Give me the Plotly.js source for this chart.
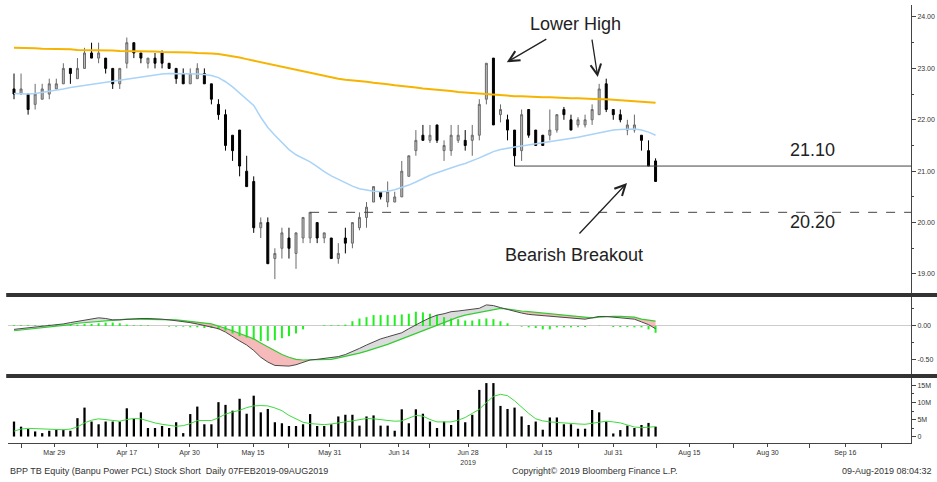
<!DOCTYPE html>
<html><head><meta charset="utf-8">
<script src="https://cdn.plot.ly/plotly-3.0.1.min.js"></script>
<style>html,body{margin:0;padding:0;background:#fff}#chart{width:937px;height:482px}</style>
</head><body><div id="chart"></div>
<script>
// ---- Daily candles (trading-day index 0..91), BPP TB, THB ----
const OPEN=[22.6,22.5,22.5,22.3,22.4,22.5,22.6,22.7,23.0,22.8, 23.0,23.3,23.2,23.2,23.0,22.7,23.1,23.5,23.3,23.1, 23.2,23.3,23.1,23.0,22.9,22.7,22.8,22.9,22.7,22.3, 22.1,21.7,21.8,21.0,20.8,19.9,20.0,19.3,19.5,19.7, 19.4,19.7,19.7,20.0,19.7,19.7,19.3,19.7,19.6,19.9, 20.1,20.4,20.6,20.4,20.4,20.5,20.9,21.4,21.7,21.6, 21.9,21.4,21.4,21.6,21.6,21.6,21.7,22.4,23.2,22.1, 22.0,21.8,21.4,22.2,21.8,21.7,21.7,21.8,22.2,22.0, 21.9,21.9,22.0,22.1,22.7,22.2,22.1,21.8,21.8,21.7, 21.4,21.2];
const HIGH=[22.9,22.9,22.5,22.7,22.7,22.8,22.8,23.1,23.0,23.2, 23.4,23.5,23.5,23.2,23.0,23.0,23.6,23.5,23.3,23.2, 23.3,23.35,23.1,23.0,23.0,23.0,23.1,23.0,22.7,22.4, 22.2,21.7,21.8,21.3,20.9,20.1,20.1,19.5,19.9,19.9, 19.8,20.1,20.2,20.0,19.8,19.7,19.6,19.9,20.0,20.2, 20.4,20.7,20.6,20.8,20.6,21.2,21.3,21.8,21.9,21.9, 21.9,21.6,21.9,21.9,21.8,21.9,22.4,23.1,23.2,22.3, 22.1,21.8,22.2,22.2,21.8,21.7,22.2,22.1,22.25,22.1, 22.05,22.1,22.3,22.7,22.8,22.2,22.2,22.0,22.1,21.7, 21.6,21.25];
const LOW=[22.4,22.5,22.1,22.2,22.4,22.4,22.6,22.7,22.7,22.8, 23.0,23.2,23.1,22.9,22.6,22.6,23.0,23.2,23.1,23.0, 23.0,23.0,23.0,22.7,22.7,22.7,22.8,22.7,22.3,22.0, 21.4,21.2,20.9,20.7,19.8,19.7,19.2,18.9,19.3,19.3, 19.1,19.6,19.6,19.6,19.6,19.3,19.2,19.4,19.5,19.85, 19.9,20.4,20.45,20.3,20.4,20.5,20.9,21.3,21.6,21.55, 21.55,21.2,21.3,21.55,21.4,21.3,21.6,22.3,21.9,21.95, 21.6,21.1,21.2,21.65,21.5,21.5,21.6,21.75,22.0,21.8, 21.85,21.85,21.9,22.1,22.15,22.0,21.95,21.7,21.75,21.4, 21.1,20.8];
const CLOSE=[22.5,22.6,22.2,22.5,22.6,22.7,22.7,23.0,22.9,23.0, 23.3,23.2,23.3,23.0,22.7,23.0,23.5,23.3,23.2,23.2, 23.1,23.1,23.0,22.8,22.7,22.9,23.0,22.7,22.4,22.1, 21.5,21.4,21.1,20.7,19.9,20.0,19.2,19.4,19.8,19.5, 19.8,20.1,20.2,19.7,19.8,19.3,19.4,19.6,20.0,20.1, 20.3,20.7,20.5,20.6,20.5,21.0,21.3,21.6,21.6,21.7, 21.6,21.5,21.7,21.7,21.5,21.7,22.3,23.1,21.9,22.2, 21.8,21.3,22.1,21.7,21.5,21.5,21.8,22.1,22.1,21.8, 22.0,22.0,22.2,22.6,22.2,22.1,22.0,21.9,21.9,21.6, 21.1,20.8];
// moving averages on price
const MA_LONG=[23.40,23.40,23.39,23.39,23.38,23.38,23.37,23.37,23.37,23.36, 23.36,23.36,23.35,23.35,23.35,23.34,23.34,23.34,23.33,23.33, 23.33,23.32,23.32,23.32,23.31,23.31,23.30,23.30,23.29,23.28, 23.26,23.24,23.21,23.18,23.15,23.12,23.09,23.06,23.03,23.00, 22.97,22.94,22.91,22.88,22.85,22.82,22.80,22.78,22.77,22.76, 22.74,22.72,22.71,22.69,22.67,22.66,22.64,22.63,22.61,22.60, 22.58,22.57,22.56,22.54,22.53,22.52,22.50,22.49,22.48,22.47, 22.47,22.46,22.46,22.45,22.45,22.44,22.44,22.43,22.43,22.42, 22.42,22.41,22.41,22.40,22.40,22.39,22.38,22.37,22.36,22.35, 22.34,22.33];
const MA_SHORT=[22.51,22.50,22.50,22.51,22.53,22.55,22.58,22.60,22.63,22.65, 22.67,22.69,22.71,22.73,22.75,22.77,22.80,22.82,22.84,22.86, 22.88,22.89,22.90,22.90,22.90,22.90,22.89,22.88,22.86,22.82, 22.74,22.64,22.52,22.40,22.28,22.05,21.85,21.70,21.55,21.42, 21.32,21.25,21.18,21.09,20.99,20.91,20.84,20.77,20.71,20.66, 20.63,20.61,20.60,20.61,20.64,20.68,20.73,20.79,20.86,20.92, 20.97,21.02,21.07,21.11,21.15,21.20,21.26,21.32,21.38,21.42, 21.45,21.47,21.49,21.51,21.53,21.55,21.57,21.59,21.61,21.63, 21.66,21.69,21.72,21.75,21.78,21.80,21.81,21.82,21.82,21.80, 21.76,21.70];
// MACD panel
const MACD=[-0.05,-0.04,-0.03,-0.02,-0.01,0.00,0.02,0.03,0.05,0.07, 0.09,0.11,0.12,0.11,0.09,0.09,0.10,0.11,0.11,0.11, 0.11,0.10,0.09,0.08,0.06,0.05,0.03,0.01,-0.02,-0.04, -0.09,-0.16,-0.22,-0.28,-0.36,-0.46,-0.53,-0.58,-0.59,-0.59, -0.57,-0.54,-0.50,-0.49,-0.48,-0.47,-0.45,-0.42,-0.38,-0.33, -0.28,-0.23,-0.19,-0.16,-0.13,-0.10,-0.04,0.02,0.07,0.12, 0.16,0.18,0.21,0.22,0.23,0.24,0.26,0.31,0.30,0.27, 0.24,0.21,0.19,0.17,0.16,0.15,0.14,0.13,0.12,0.11, 0.10,0.10,0.12,0.14,0.14,0.13,0.13,0.12,0.10,0.06, 0.02,-0.04];
const SIGNAL=[-0.07,-0.06,-0.05,-0.04,-0.03,-0.02,-0.01,0.01,0.02,0.04, 0.05,0.06,0.07,0.08,0.09,0.09,0.10,0.10,0.10,0.10, 0.10,0.10,0.10,0.09,0.08,0.07,0.06,0.05,0.03,0.00, -0.03,-0.07,-0.11,-0.15,-0.19,-0.25,-0.31,-0.37,-0.42,-0.46, -0.49,-0.50,-0.50,-0.50,-0.50,-0.49,-0.47,-0.45,-0.43,-0.40, -0.37,-0.34,-0.30,-0.27,-0.23,-0.19,-0.15,-0.10,-0.06,-0.02, 0.02,0.06,0.10,0.13,0.16,0.18,0.20,0.22,0.24,0.26, 0.25,0.23,0.22,0.21,0.20,0.19,0.17,0.16,0.15,0.14, 0.13,0.12,0.12,0.13,0.14,0.14,0.14,0.14,0.13,0.10, 0.08,0.07];
const HIST=[0.01,0.01,0.01,0.01,0.01,0.02,0.02,0.02,0.02,0.02,0.03, 0.03,0.04,0.05,0.05,0.04, 0.02,0.01,0.01,0.01,0.00,0.00,-0.01,-0.01,-0.01, -0.02,-0.02,-0.03,-0.03, -0.05,-0.07,-0.11,-0.15,-0.17,-0.20,-0.22,-0.22,-0.21,-0.18,-0.15,-0.11,-0.05, 0.00,0.00,0.01,0.01,0.01,0.02, 0.07,0.11,0.13,0.16,0.16,0.16,0.16,0.17,0.18,0.21,0.20,0.18,0.16,0.13,0.11,0.10,0.08,0.08,0.10,0.11,0.10,0.07,0.04, 0.00,-0.01,-0.02,-0.03,-0.05,-0.05,-0.02,-0.02,-0.02,-0.015,-0.015,0.00,0.005,0.00,-0.015,-0.015,-0.015,-0.02,-0.02,-0.05,-0.10];
// Volume (millions of shares)
const VOLUME=[4.4,2.9,2.2,1.5,1.0,1.7,2.0,2.0,1.7,5.4, 8.5,4.4,3.6,4.4,4.4,4.4,8.3,5.2,7.1,2.5, 2.5,3.1,2.5,4.2,1.0,6.6,8.8,3.6,3.6,10.1, 9.3,7.6,11.1,6.7,12.0,7.1,8.1,4.2,3.9,3.1, 3.1,3.6,6.6,3.1,3.1,3.6,5.9,6.4,6.4,3.2, 5.9,6.2,3.2,3.2,1.7,8.0,3.9,8.0,6.7,4.4, 2.5,4.4,3.4,7.8,4.2,6.4,13.7,15.7,15.7,9.0, 8.1,8.5,5.9,3.4,4.4,2.0,5.6,5.6,3.6,3.6, 2.3,2.3,7.8,7.1,4.4,0.9,1.9,3.2,2.5,3.4, 4.0,2.9];
const VOL_MA=[1.6,2.2,2.4,2.3,2.2,2.1,2.0,2.0,2.2,2.8, 4.0,4.8,5.2,5.0,4.6,4.5,5.0,5.3,5.2,4.5, 4.0,3.6,3.3,3.0,3.2,3.8,4.7,4.8,4.7,5.5, 6.6,7.2,7.7,8.5,9.0,9.1,9.0,8.4,7.6,6.2, 5.2,4.2,3.8,3.6,3.5,3.7,3.9,4.3,4.6,5.0, 5.3,5.2,4.9,4.6,4.5,4.6,5.3,6.2,6.0,5.0, 4.3,4.2,4.3,4.8,5.6,6.8,8.0,10.0,11.8,12.4, 12.0,10.5,8.5,6.8,5.2,4.6,4.3,4.1,3.9,3.8, 3.7,3.6,3.9,4.4,4.5,4.3,4.0,3.4,2.8,2.6, 2.7,2.9];
// Axis labels
const X_TICK_POS=[5.7,16.0,24.9,33.9,44.8,54.6,64.4,75.0,85.0,95.8,106.9,117.9];
const X_TICK_TEXT=['Mar 29','Apr 17','Apr 30','May 15','May 31','Jun 14','Jun 28<br>2019','Jul 15','Jul 31','Aug 15','Aug 30','Sep 16'];
const X_MINOR_POS=[1.1,11.9,20.5,28.9,38.9,49.1,59.0,69.9,80.0,91.2,102.0,112.9,123.1];
const MACD_TICKS=[0,-0.5];
const MACD_TICK_TEXT=['0.00','-0.50'];
const VOL_TICKS=[0,5,10,15];
const VOL_TICK_TEXT=['0','5M','10M','15M'];
// Annotated levels
const LEVELS=[21.10,20.20];
const LEVEL_START=[71,42];

const XMIN=-0.851, XMAX=127.23;
const idx=CLOSE.map((_,i)=>i);
const upper=MACD.map((m,i)=>Math.max(m,SIGNAL[i]));
const lower=MACD.map((m,i)=>Math.min(m,SIGNAL[i]));
const hx=[],hy=[];
HIST.forEach((v,i)=>{hx.push(i,i,null);hy.push(0,v,null);});

const data=[
 {type:'candlestick',x:idx,open:OPEN,high:HIGH,low:LOW,close:CLOSE,xaxis:'x',yaxis:'y',
  increasing:{line:{color:'#6a6a6a',width:1},fillcolor:'#bdbdbd'},
  decreasing:{line:{color:'#000',width:1},fillcolor:'#000'},whiskerwidth:0,hoverinfo:'skip'},
 {type:'scatter',mode:'lines',x:idx,y:MA_LONG,yaxis:'y',line:{color:'#f6b400',width:2}},
 {type:'scatter',mode:'lines',x:idx,y:MA_SHORT,yaxis:'y',line:{color:'#a9d3f7',width:1.5}},
 {type:'scatter',mode:'lines',x:idx,y:SIGNAL,yaxis:'y2',line:{width:0},hoverinfo:'skip'},
 {type:'scatter',mode:'lines',x:idx,y:upper,yaxis:'y2',line:{width:0},fill:'tonexty',fillcolor:'rgba(190,190,190,0.55)'},
 {type:'scatter',mode:'lines',x:idx,y:SIGNAL,yaxis:'y2',line:{width:0},hoverinfo:'skip'},
 {type:'scatter',mode:'lines',x:idx,y:lower,yaxis:'y2',line:{width:0},fill:'tonexty',fillcolor:'rgba(240,140,140,0.6)'},
 {type:'scatter',mode:'lines',x:hx,y:hy,yaxis:'y2',line:{color:'#22ee22',width:2},connectgaps:false},
 {type:'scatter',mode:'lines',x:idx,y:SIGNAL,yaxis:'y2',line:{color:'#33cc33',width:1.2}},
 {type:'scatter',mode:'lines',x:idx,y:MACD,yaxis:'y2',line:{color:'#4a4a4a',width:1}},
 {type:'bar',x:idx,y:VOLUME,yaxis:'y3',marker:{color:'#000'},width:0.32},
 {type:'scatter',mode:'lines',x:idx,y:VOL_MA,yaxis:'y3',line:{color:'#3ddc3d',width:1}}
];

const tf={family:'Arial, "Liberation Sans", sans-serif',size:7,color:'#333'};
const yBase={side:'right',anchor:'x',showline:true,linecolor:'#444',linewidth:1,ticks:'outside',ticklen:4,tickcolor:'#444',showgrid:false,tickfont:tf,fixedrange:true};

const shapes=[
 {type:'line',xref:'paper',yref:'paper',x0:-0.002,x1:1.04,y0:0.3880,y1:0.3880,line:{color:'#333',width:4}},
 {type:'line',xref:'paper',yref:'paper',x0:-0.002,x1:1.04,y0:0.2199,y1:0.2199,line:{color:'#333',width:4}}
];
LEVELS.forEach((lv,k)=>shapes.push({type:'line',xref:'x',yref:'y',x0:LEVEL_START[k],x1:XMAX,y0:lv,y1:lv,line:{color:'#444',width:1,dash:k===0?'solid':'dash'}}));

const af={family:'Arial, "Liberation Sans", sans-serif',size:18,color:'#222'};
const ff={family:'Arial, "Liberation Sans", sans-serif',size:9,color:'#333'};
const annotations=[
 {xref:'x',yref:'y',x:79.7,y:23.86,text:'Lower High',showarrow:false,font:af},
 {xref:'x',yref:'y',x:79.4,y:19.37,text:'Bearish Breakout',showarrow:false,font:af},
 {xref:'x',yref:'y',x:113.2,y:LEVELS[0]+0.31,text:LEVELS[0].toFixed(2),showarrow:false,font:af},
 {xref:'x',yref:'y',x:113.2,y:LEVELS[1]-0.19,text:LEVELS[1].toFixed(2),showarrow:false,font:af},
 {xref:'x',yref:'y',x:69.9,y:23.12,text:'',showarrow:true,arrowhead:5,arrowsize:1.6,arrowwidth:1.3,arrowcolor:'#222',ax:41,ay:-24},
 {xref:'x',yref:'y',x:82.8,y:22.83,text:'',showarrow:true,arrowhead:5,arrowsize:1.6,arrowwidth:1.3,arrowcolor:'#222',ax:-6,ay:-39},
 {xref:'x',yref:'y',x:86.95,y:20.77,text:'',showarrow:true,arrowhead:5,arrowsize:1.6,arrowwidth:1.3,arrowcolor:'#222',ax:-49,ay:52},
 {xref:'paper',yref:'paper',x:0.0,y:0.0228,xanchor:'left',yanchor:'middle',text:'BPP TB Equity (Banpu Power PCL) Stock Short  Daily 07FEB2019-09AUG2019',showarrow:false,font:ff},
 {xref:'paper',yref:'paper',x:0.650,y:0.0228,xanchor:'center',yanchor:'middle',text:'Copyright© 2019 Bloomberg Finance L.P.',showarrow:false,font:ff},
 {xref:'paper',yref:'paper',x:0.921,y:0.0228,xanchor:'left',yanchor:'middle',text:'09-Aug-2019 08:04:32',showarrow:false,font:ff}
];

const layout={
 width:937,height:482,margin:{l:8,r:26,t:0,b:0},paper_bgcolor:'#fff',plot_bgcolor:'#fff',
 showlegend:false,boxgap:0.6,font:tf,
 xaxis:{domain:[0,1],range:[XMIN,XMAX],anchor:'y3',tickmode:'array',tickvals:X_TICK_POS,ticktext:X_TICK_TEXT,
  ticks:'outside',ticklen:3,tickcolor:'#444',showline:true,linecolor:'#444',linewidth:1,showgrid:false,zeroline:false,
  tickfont:tf,rangeslider:{visible:false},fixedrange:true,
  minor:{tickmode:'array',tickvals:X_MINOR_POS,ticks:'outside',ticklen:4,tickcolor:'#444',showgrid:false}},
 yaxis:Object.assign({},yBase,{domain:[0.3921,0.9896],range:[18.63,24.233],tickmode:'linear',tick0:19,dtick:1,tickformat:'.2f',zeroline:false,
  minor:{tick0:18.5,dtick:0.5,ticks:'outside',ticklen:2,tickcolor:'#444',showgrid:false}}),
 yaxis2:Object.assign({},yBase,{domain:[0.2241,0.3838],range:[-0.706,0.426],tickmode:'array',tickvals:MACD_TICKS,ticktext:MACD_TICK_TEXT,
  zeroline:true,zerolinecolor:'#cccccc',zerolinewidth:1,
  minor:{tickmode:'array',tickvals:[0.25,-0.25],ticks:'outside',ticklen:2,tickcolor:'#444',showgrid:false}}),
 yaxis3:Object.assign({},yBase,{domain:[0.0809,0.2158],range:[-1.9,17.2],tickmode:'array',tickvals:VOL_TICKS,ticktext:VOL_TICK_TEXT,zeroline:false,
  minor:{tickmode:'array',tickvals:[2.5,7.5,12.5],ticks:'outside',ticklen:2,tickcolor:'#444',showgrid:false}}),
 shapes:shapes,annotations:annotations
};
Plotly.newPlot('chart',data,layout,{staticPlot:true,displayModeBar:false});
</script></body></html>
